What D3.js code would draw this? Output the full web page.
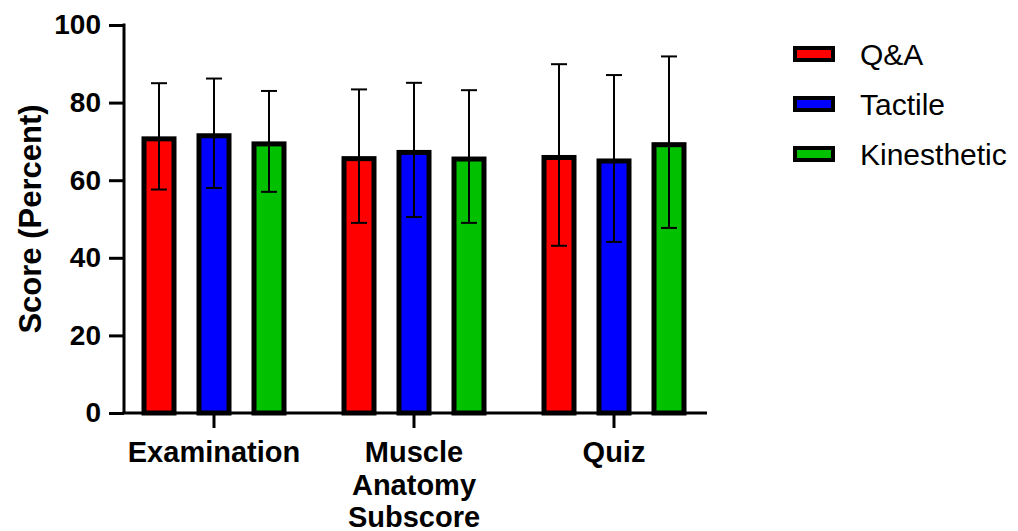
<!DOCTYPE html>
<html>
<head>
<meta charset="utf-8">
<script src="https://cdn.jsdelivr.net/npm/d3@7"></script>
<style>
  body { margin: 0; background: #fff; }
  svg { display: block; font-family: Arial, "Liberation Sans", sans-serif; }
</style>
</head>
<body>
<svg id="chart"></svg>
<script>
// data
var groups = ["Examination", "Muscle Anatomy Subscore", "Quiz"];
var groupLines = [["Examination"], ["Muscle", "Anatomy", "Subscore"], ["Quiz"]];
var series = ["Q&A", "Tactile", "Kinesthetic"];
var colors = ["#ff0000", "#0000ff", "#00c000"];
var qaMean = [71.3, 66.2, 66.5];
var qaSd = [13.7, 17.2, 23.4];
var tactileMean = [72.1, 67.8, 65.6];
var tactileSd = [14.1, 17.3, 21.5];
var kinMean = [70.0, 66.1, 69.8];
var kinSd = [13.0, 17.1, 22.1];
var yTicks = [0, 20, 40, 60, 80, 100];

var means = [qaMean, tactileMean, kinMean];
var sds = [qaSd, tactileSd, kinSd];

var dimensions = { width: 1018, height: 531, left: 124, right: 707, top: 25, bottom: 413 };

var svg = d3.select("#chart")
    .attr("width", dimensions.width)
    .attr("height", dimensions.height);

// build flat table
var rows = [];
groups.forEach(function(g, gi) {
    series.forEach(function(s, si) {
        rows.push({ group: g, key: s, mean: means[si][gi], sd: sds[si][gi], color: colors[si] });
    });
});

var xScale = d3.scaleBand()
    .domain(groups)
    .range([dimensions.left - 10, dimensions.left + 590])
    .padding(0);

var xInner = d3.scaleBand()
    .domain(series)
    .range([17.5, 182.5])
    .padding(0);

var yScale = d3.scaleLinear()
    .domain([0, 100])
    .range([dimensions.bottom, dimensions.top]);

var barW = 35, border = 5;

// bars
svg.append("g")
   .selectAll("rect")
   .data(rows)
   .enter()
   .append("rect")
   .attr("x", d => xScale(d.group) + xInner(d.key) + (xInner.bandwidth() - barW) / 2 + border / 2)
   .attr("y", d => yScale(d.mean) + border / 2)
   .attr("width", barW - border)
   .attr("height", d => yScale(0) - yScale(d.mean) - border / 2)
   .attr("fill", d => d.color)
   .attr("stroke", "#000")
   .attr("stroke-width", border);

// error bars
var err = svg.append("g")
   .attr("stroke", "#000")
   .attr("stroke-width", 2)
   .selectAll("g")
   .data(rows)
   .enter()
   .append("g")
   .attr("transform", d => "translate(" + (xScale(d.group) + xInner(d.key) + xInner.bandwidth() / 2) + ",0)");

err.append("line")
   .attr("y1", d => yScale(d.mean - d.sd))
   .attr("y2", d => yScale(d.mean + d.sd));
err.append("line")
   .attr("x1", -8).attr("x2", 8)
   .attr("y1", d => yScale(d.mean + d.sd))
   .attr("y2", d => yScale(d.mean + d.sd));
err.append("line")
   .attr("x1", -8).attr("x2", 8)
   .attr("y1", d => yScale(d.mean - d.sd))
   .attr("y2", d => yScale(d.mean - d.sd));

// y axis
var yAxis = svg.append("g")
   .attr("transform", "translate(" + dimensions.left + ",0)")
   .call(d3.axisLeft(yScale).tickValues(yTicks).tickSize(15).tickSizeOuter(0).tickPadding(8));
yAxis.selectAll("path, line").attr("stroke", "#000").attr("stroke-width", 3);
yAxis.select(".domain").attr("d", "M0," + (dimensions.top - 1.5) + "V" + dimensions.bottom);
yAxis.selectAll("text")
   .attr("font-size", 28).attr("font-weight", "bold").attr("fill", "#000")
   .attr("font-family", "Arial, 'Liberation Sans', sans-serif");

// x axis
var xAxis = svg.append("g")
   .attr("transform", "translate(0," + dimensions.bottom + ")")
   .call(d3.axisBottom(xScale).tickSize(15).tickSizeOuter(0).tickFormat(""));
xAxis.selectAll("path, line").attr("stroke", "#000").attr("stroke-width", 3);
xAxis.select(".domain").attr("d", "M" + (dimensions.left - 1.5) + ",0H" + dimensions.right);

var xLabels = svg.append("g")
   .attr("font-size", 29).attr("font-weight", "bold").attr("text-anchor", "middle")
   .selectAll("text")
   .data(groups)
   .enter()
   .append("text")
   .attr("x", d => xScale(d) + xScale.bandwidth() / 2)
   .attr("y", 462);
xLabels.selectAll("tspan")
   .data((d, i) => groupLines[i])
   .enter()
   .append("tspan")
   .attr("x", function() { return d3.select(this.parentNode).attr("x"); })
   .attr("dy", (d, i) => i === 0 ? 0 : 32.5)
   .text(d => d);

// y title
svg.append("text")
   .attr("transform", "translate(41," + ((dimensions.top + dimensions.bottom) / 2) + ") rotate(-90)")
   .attr("text-anchor", "middle")
   .attr("font-size", 31).attr("font-weight", "bold")
   .text("Score (Percent)");

// legend
var legend = svg.append("g").attr("transform", "translate(795,54)");
legend.selectAll("rect")
   .data(series)
   .enter()
   .append("rect")
   .attr("x", 0)
   .attr("y", (d, i) => i * 50 - 6)
   .attr("width", 38)
   .attr("height", 12)
   .attr("fill", (d, i) => colors[i])
   .attr("stroke", "#000")
   .attr("stroke-width", 4);
legend.selectAll("text")
   .data(series)
   .enter()
   .append("text")
   .attr("x", 65)
   .attr("y", (d, i) => i * 50)
   .attr("dy", "0.35em")
   .attr("font-size", 30)
   .text(d => d);
</script>
</body>
</html>
